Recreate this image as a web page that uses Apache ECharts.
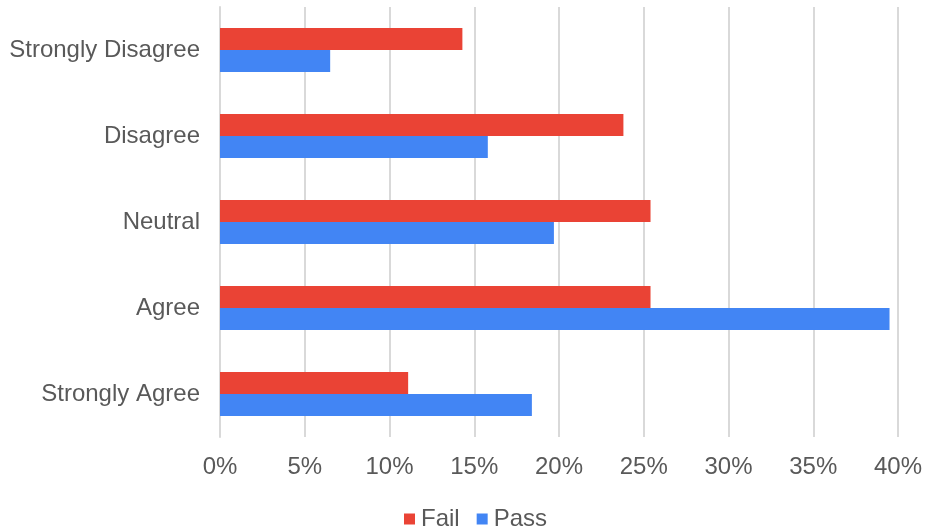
<!DOCTYPE html>
<html>
<head>
<meta charset="utf-8">
<script src="https://cdn.jsdelivr.net/npm/echarts@6/dist/echarts.min.js"></script>
<style>
html,body{margin:0;padding:0;background:#fff;}
#c{width:927px;height:532px;}
</style>
</head>
<body>
<div id="c"></div>
<script>
var categories = ['Strongly Disagree', 'Disagree', 'Neutral', 'Agree', 'Strongly Agree'];
var failValues = [14.3, 23.8, 25.4, 25.4, 11.1];
var passValues = [6.5, 15.8, 19.7, 39.5, 18.4];
var xTicks = [0, 5, 10, 15, 20, 25, 30, 35, 40];

var chart = echarts.init(document.getElementById('c'));
var font = 'Liberation Sans, Arial, sans-serif';
chart.setOption({
  animation: false,
  textStyle: { fontFamily: font },
  grid: { left: 220, right: 29, top: 7, bottom: 95, containLabel: false },
  legend: {
    top: 502,
    left: 399,
    icon: 'rect',
    itemWidth: 11,
    itemHeight: 11,
    itemGap: 17,
    textStyle: { color: '#595959', fontSize: 24, fontFamily: font, padding: [0, 0, 0, 1] },
    data: ['Fail', 'Pass']
  },
  xAxis: {
    type: 'value',
    min: xTicks[0],
    max: xTicks[xTicks.length - 1],
    interval: 5,
    axisLine: { show: false },
    axisTick: { show: false },
    splitLine: { lineStyle: { color: '#d9d9d9', width: 2 } },
    axisLabel: { color: '#595959', fontSize: 24, margin: 18, formatter: function (v) { return v + '%'; } }
  },
  yAxis: {
    type: 'category',
    inverse: true,
    data: categories,
    axisLine: { show: true, lineStyle: { color: '#d9d9d9', width: 2 } },
    axisTick: { show: false },
    axisLabel: { color: '#595959', fontSize: 24, margin: 20 }
  },
  series: [
    { name: 'Fail', type: 'bar', data: failValues, barWidth: 22, barGap: '0%', itemStyle: { color: '#EA4335' } },
    { name: 'Pass', type: 'bar', data: passValues, barWidth: 22, barGap: '0%', itemStyle: { color: '#4285F4' } }
  ]
});
</script>
</body>
</html>
